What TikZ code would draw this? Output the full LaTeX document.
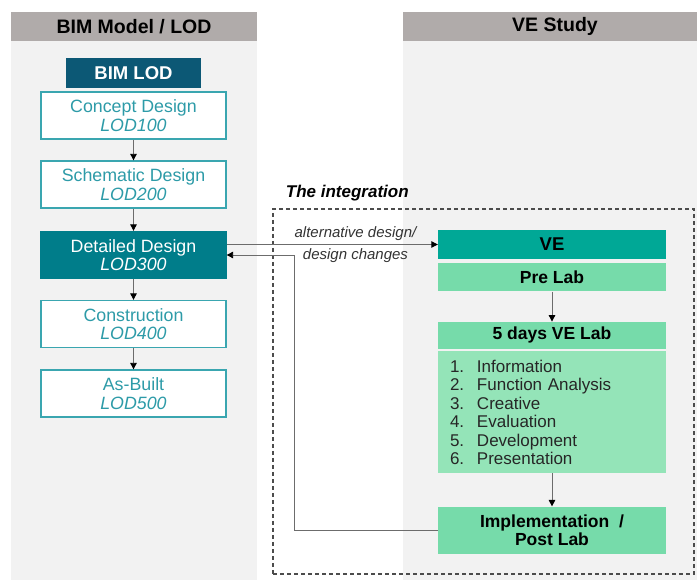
\documentclass[tikz,border=0pt]{standalone}
\usepackage{fontspec}
\setmainfont{Liberation Sans}
\usetikzlibrary{arrows.meta,positioning}

\definecolor{hdrgray}{RGB}{176,171,170}
\definecolor{panelgray}{RGB}{242,242,242}
\definecolor{lodblue}{RGB}{12,88,117}
\definecolor{lodteal}{RGB}{58,166,176}
\definecolor{lodtext}{RGB}{45,155,168}
\definecolor{detteal}{RGB}{0,125,138}
\definecolor{veteal}{RGB}{0,168,150}
\definecolor{labgreen}{RGB}{118,219,170}
\definecolor{listgreen}{RGB}{148,228,184}
\newcommand{\labstep}[2]{\makebox[27pt][l]{#1.}#2}

\begin{document}
\begin{tikzpicture}[x=1pt,y=-1pt,
  every node/.style={font=\fontsize{17}{18.5}\selectfont},
  header/.style={fill=hdrgray, minimum height=29pt, font=\fontsize{19.5}{21}\selectfont\bfseries},
  lodbox/.style={draw=lodteal, line width=1.3pt, fill=white, text=lodtext, minimum width=185pt, minimum height=47pt, align=center, font=\fontsize{17.8}{18.5}\selectfont},
  vebox/.style={fill=labgreen, minimum width=228pt, font=\fontsize{17.5}{18.5}\selectfont\bfseries, align=center},
  lbl/.style={font=\fontsize{15}{16}\selectfont\itshape, text=black!80},
  flow/.style={draw=gray!85!black, line width=0.9pt, -{Triangle[length=6.5pt,width=6.5pt,color=black]}},
]
\useasboundingbox (0,0) rectangle (697,580);

% columns
\fill[panelgray] (11,41) rectangle (257,580);
\fill[panelgray] (403,41) rectangle (697,580);
\node[header, minimum width=246pt] (bimhdr) at (134,26.5) {BIM Model / LOD};
\node[header, minimum width=304pt] (vehdr) at (555,26.5) {VE Study};

% BIM LOD chain
\node[fill=lodblue, text=white, minimum width=135pt, minimum height=30pt, font=\fontsize{18.5}{20}\selectfont\bfseries] (bimlod) at (133.5,73) {BIM LOD};
\node[lodbox] (concept) at (133.5,115.5) {Concept Design\\\textit{LOD100}};
\node[lodbox] (schematic) at (133.5,184.5) {Schematic Design\\\textit{LOD200}};
\node[lodbox, fill=detteal, draw=detteal, text=white] (detailed) at (133.5,255) {Detailed Design\\\textit{LOD300}};
\node[lodbox] (construction) at (133.5,324) {Construction\\\textit{LOD400}};
\node[lodbox] (asbuilt) at (133.5,393.5) {As-Built\\\textit{LOD500}};

\draw[flow] (concept) -- (schematic);
\draw[flow] (schematic) -- (detailed);
\draw[flow] (detailed) -- (construction);
\draw[flow] (construction) -- (asbuilt);

% the integration
\node[draw=black!70, dashed, dash pattern=on 4pt off 3pt, line width=1.2pt, minimum width=421pt, minimum height=365pt] (integ) at (483.5,391.5) {};
\node[anchor=south west, font=\fontsize{17}{18.5}\selectfont\bfseries\itshape] (integlabel) at ([xshift=10pt,yshift=4pt]integ.north west) {The integration};

% VE study
\node[vebox, fill=veteal, minimum height=29pt, font=\fontsize{18.5}{20}\selectfont\bfseries] (ve) at (552,244.5) {VE};
\node[vebox, below=4pt of ve, minimum height=28pt] (prelab) {Pre Lab};
\node[vebox, below=30pt of prelab, minimum height=27pt] (labhead) {5 days VE Lab};
\node[fill=listgreen, below=2pt of labhead, minimum width=228pt, minimum height=122pt, text width=204pt, inner xsep=12pt, align=left, text=black!85] (lablist)
  {\labstep{1}{Information}\\\labstep{2}{Function Analysis}\\\labstep{3}{Creative}\\\labstep{4}{Evaluation}\\\labstep{5}{Development}\\\labstep{6}{Presentation}};
\node[vebox, below=33pt of lablist, minimum height=47pt] (impl) {Implementation~~/\\Post Lab};

\draw[flow] (prelab) -- (labhead);
\draw[flow] (lablist) -- (impl);

% exchange between BIM and VE
\draw[flow] (detailed.east |- ve.west) -- node[pos=0.61, above, lbl] {alternative design/} node[pos=0.61, below, lbl] {design changes} (ve.west);
\coordinate (bend) at (294,0);
\draw[flow] (impl.west) -| (bend |- detailed.east) -- (detailed.east);
\end{tikzpicture}
\end{document}
